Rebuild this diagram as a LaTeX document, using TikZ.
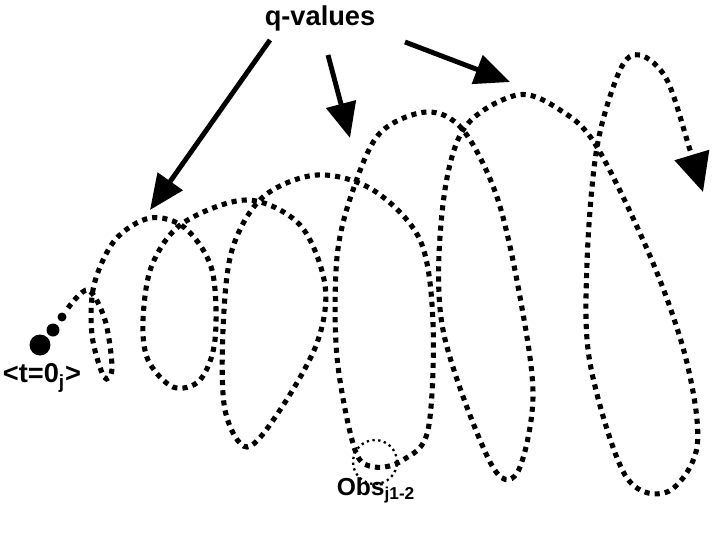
\documentclass[tikz,border=0pt]{standalone}
\usepackage{fontspec}
\setmainfont{Liberation Sans}
\usetikzlibrary{arrows.meta,positioning}

\begin{document}
\begin{tikzpicture}[x=0.02cm,y=-0.02cm,
			coil/.style={
				line width=2.9pt,
				dash pattern=on 2.9pt off 2.9pt,
			},
			qarrow/.style={
				line width=2.8pt,
				-{Triangle[length=20pt,width=17pt]},
			},
			ball/.style={
				circle,
				fill=black,
				inner sep=0,
			},
			lbl/.style={
				font=\bfseries,
			}
		]
		\useasboundingbox (0,0) rectangle (712,534);
		\node[lbl,font=\bfseries\fontsize{15.5}{18}\selectfont](qv) at (320,18) {q-values};
		\node[lbl,font=\bfseries\fontsize{15.5}{18}\selectfont](t0) at (42,378) {<t=0\textsubscript{j}>};
		\node[lbl,font=\bfseries\fontsize{14}{16}\selectfont](obs) at (376,490) {Obs\textsubscript{j1-2}};

		\node[ball,minimum size=0.42cm](b1) at (40,345) {};
		\node[ball,minimum size=0.26cm](b2) at (53,330) {};
		\node[ball,minimum size=0.18cm](b3) at (62,317) {};

		\coordinate (q1) at (270,40);
		\coordinate (q2) at (328,55);
		\coordinate (q3) at (405,42);
		\coordinate (a1) at (150,210);
		\coordinate (a2) at (350,138);
		\coordinate (a3) at (510,82);
		\draw[qarrow] (q1) -- (a1);
		\draw[qarrow] (q2) -- (a2);
		\draw[qarrow] (q3) -- (a3);

		% the coil
		\draw[coil,-{Triangle[length=22pt,width=20pt]}] plot[smooth,tension=0.55] coordinates {
			(68,308) (88,290) (105,320) (112,368) (104,377) (92,335) (94,285)
			(115,240) (150,218) (185,228) (212,270) (215,340) (200,380) (173,387)
			(148,360) (143,320) (152,265) (183,223) (247,200) (300,225) (325,285)
			(317,343) (280,410) (247,447) (225,410) (223,330) (232,250) (263,197)
			(317,175) (373,190) (420,240) (433,323) (428,430) (403,460) (375,467)
			(355,450) (337,357) (337,257) (353,190) (380,133) (427,112) (463,130)
			(497,197) (520,297) (533,397) (517,473) (490,462) (443,330) (442,213)
			(463,130) (517,95) (560,110) (597,147) (653,263) (687,363) (697,447)
			(667,492) (625,475) (590,363) (587,263) (597,147) (620,70) (640,55)
			(667,80) (690,150) (703,192)};

		\node[draw,circle,dotted,line width=1.3pt,minimum size=0.88cm](oc) at (375,462) {};
	\end{tikzpicture}
\end{document}
